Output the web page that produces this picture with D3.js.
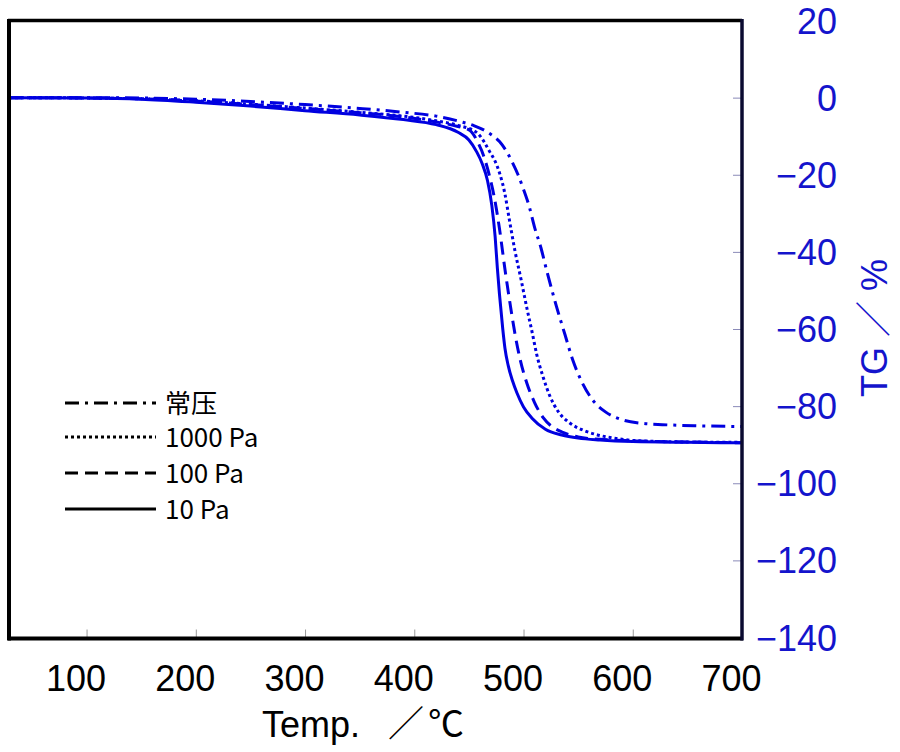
<!DOCTYPE html>
<html><head><meta charset="utf-8">
<script src="https://cdn.jsdelivr.net/npm/d3@7"></script>
<style>body{margin:0;background:#fff}svg{display:block}</style>
</head><body>
<svg id="c" width="900" height="752"></svg>
<script>
// ---- data ----
const xTicks = [100, 200, 300, 400, 500, 600, 700];
const yTicks = [20, 0, -20, -40, -60, -80, -100, -120, -140];
const seriesNames = ["常压", "1000 Pa", "100 Pa", "10 Pa"];

const tAtm = [29,100,150,200,250,300,350,390,420,442,455,463,470,478,485,490,495,499,505,510,516,521,530,538,545,553,563,575,590,610,627,660,700];
const vAtm = [0,0,-0.1,-0.4,-1.0,-1.8,-2.8,-3.8,-4.8,-6.2,-7.3,-8.3,-9.5,-11.4,-14.2,-16.9,-20,-23,-28,-33.5,-39,-44.6,-54,-61.5,-68,-73.5,-78.3,-81.5,-83.5,-84.5,-84.8,-85.1,-85.3];

const t1000 = [29,100,150,200,250,300,350,390,420,440,457,464,469,474,478,483,487,492,498,503,508,512,518,524,532,542,555,567,585,606,650,700];
const v1000 = [0,-0.1,-0.3,-0.8,-1.7,-2.7,-3.8,-4.8,-6,-7.2,-9,-11.5,-14,-16.5,-19.5,-25,-31.6,-39.5,-47.5,-54.5,-61,-66.5,-72.5,-77.3,-81.5,-84.3,-86.3,-87.4,-88.4,-89,-89.3,-89.4];

const t100 = [29,100,150,200,250,300,350,390,420,440,451,458,464,469,473,478,483,488,492,497,503,510,518,527,536,550,570,600,650,700];
const v100 = [0,-0.1,-0.3,-0.9,-1.8,-2.8,-3.9,-5.0,-6.3,-7.5,-8.5,-11.5,-15.5,-20.5,-25.5,-34,-44.5,-54,-61,-68,-74,-79,-83,-85.5,-86.8,-88,-88.6,-89,-89.3,-89.5];

const t10 = [29,100,150,200,250,300,350,390,420,440,450,457,462,467,471,474,476,478,481,483,486,490,494,500,508,520,535,550,570,600,650,700];
const v10 = [0,-0.1,-0.4,-1.2,-2.2,-3.4,-4.5,-5.7,-7,-9,-11,-14,-17,-21.5,-28,-36,-44,-51,-60,-65,-69.5,-73.5,-76.6,-80.2,-83.2,-86,-87.5,-88.3,-88.8,-89.2,-89.4,-89.5];

// ---- layout ----
const svg = d3.select("#c");
const L = 9, R = 742, T = 20.5, B = 637.5;
const x = d3.scaleLinear().domain([29, 700]).range([L, R]);
const y = d3.scaleLinear().domain([20, -140]).range([T, B]);
const blue = "#0000e0";
const axisBlue = "#1414cc";

const styles = [
  {t: tAtm, v: vAtm, dash: "14,6,3,6"},
  {t: t1000, v: v1000, dash: "3,3"},
  {t: t100, v: v100, dash: "13,7"},
  {t: t10, v: v10, dash: null}
];

svg.append("defs").append("clipPath").attr("id","clip")
  .append("rect").attr("x",L).attr("y",T).attr("width",R-L).attr("height",B-T);

// inner tick marks
const gb = svg.append("g").attr("transform",`translate(0,${B})`)
  .call(d3.axisTop(x).tickValues(xTicks.filter(d=>d<700)).tickSize(8).tickFormat(""));
gb.select(".domain").remove();
gb.selectAll("line").attr("stroke","#999").attr("stroke-width",1);

const gr = svg.append("g").attr("transform",`translate(${R},0)`)
  .call(d3.axisLeft(y).tickValues(yTicks.filter(d=>d<20&&d>-140)).tickSize(9).tickFormat(""));
gr.select(".domain").remove();
gr.selectAll("line").attr("stroke","#8a8ab8").attr("stroke-width",1);

// curves
const line = d3.line().x(d=>x(d[0])).y(d=>y(d[1])).curve(d3.curveMonotoneX);
const gc = svg.append("g").attr("clip-path","url(#clip)");
styles.forEach(s=>{
  const pts = s.t.map((tt,i)=>[tt, s.v[i]]);
  gc.append("path").datum(pts).attr("d",line)
    .attr("fill","none").attr("stroke",blue).attr("stroke-width",3)
    .attr("stroke-dasharray", s.dash);
});

// frame
svg.append("line").attr("x1",L-1).attr("x2",R).attr("y1",T).attr("y2",T).attr("stroke","#000").attr("stroke-width",3.5);
svg.append("line").attr("x1",L-1).attr("x2",R+1).attr("y1",B+1).attr("y2",B+1).attr("stroke","#000").attr("stroke-width",4);
svg.append("line").attr("x1",L).attr("x2",L).attr("y1",T-1.5).attr("y2",B+3).attr("stroke","#000").attr("stroke-width",4);
svg.append("line").attr("x1",R).attr("x2",R).attr("y1",T-1.5).attr("y2",B+3).attr("stroke","#0a0a30").attr("stroke-width",3.5);

// bottom labels
const gx = svg.append("g").attr("transform",`translate(0,${B})`)
  .call(d3.axisBottom(x).tickValues(xTicks).tickSize(0).tickPadding(0));
gx.select(".domain").remove();
gx.selectAll("text").attr("font-family","'Liberation Sans', Arial, sans-serif")
  .attr("font-size",36).attr("fill","#000").attr("dy",null).attr("y",53).attr("dx",-11);

// right labels
const gy = svg.append("g").attr("transform",`translate(837,0)`)
  .call(d3.axisLeft(y).tickValues(yTicks).tickSize(0).tickPadding(0));
gy.select(".domain").remove();
gy.selectAll("text").attr("font-family","'Liberation Sans', Arial, sans-serif")
  .attr("font-size",36).attr("fill",axisBlue).attr("text-anchor","end").attr("dy","0.35em");

// axis titles
const xt = svg.append("text").attr("y",737)
  .attr("font-family","'Liberation Sans', 'Noto Sans CJK JP', sans-serif").attr("font-size",36)
  .attr("fill","#000");
xt.append("tspan").attr("x",262).text("Temp.");
xt.append("tspan").attr("x",388).attr("font-family","'Noto Sans CJK JP', sans-serif").text("／");
xt.append("tspan").attr("x",428).attr("font-family","'Noto Sans CJK JP', sans-serif").text("℃");

svg.append("text").attr("transform","translate(887,328) rotate(-90)")
  .attr("text-anchor","middle")
  .attr("font-family","'Liberation Sans', 'Noto Sans CJK JP', sans-serif").attr("font-size",36)
  .attr("fill",axisBlue).text("TG ／ %");

// legend
const legY = [403, 437, 473, 509];
const lg = svg.append("g");
styles.forEach((s,i)=>{
  lg.append("line").attr("x1",65).attr("x2",156).attr("y1",legY[i]).attr("y2",legY[i])
    .attr("stroke","#000").attr("stroke-width",3).attr("stroke-dasharray",s.dash);
  lg.append("text").attr("x",165).attr("y",legY[i]+9.5)
    .attr("font-family","'Noto Sans CJK JP', 'Noto Sans', sans-serif").attr("font-size",26)
    .attr("fill","#000").text(seriesNames[i]);
});
</script>
</body></html>
